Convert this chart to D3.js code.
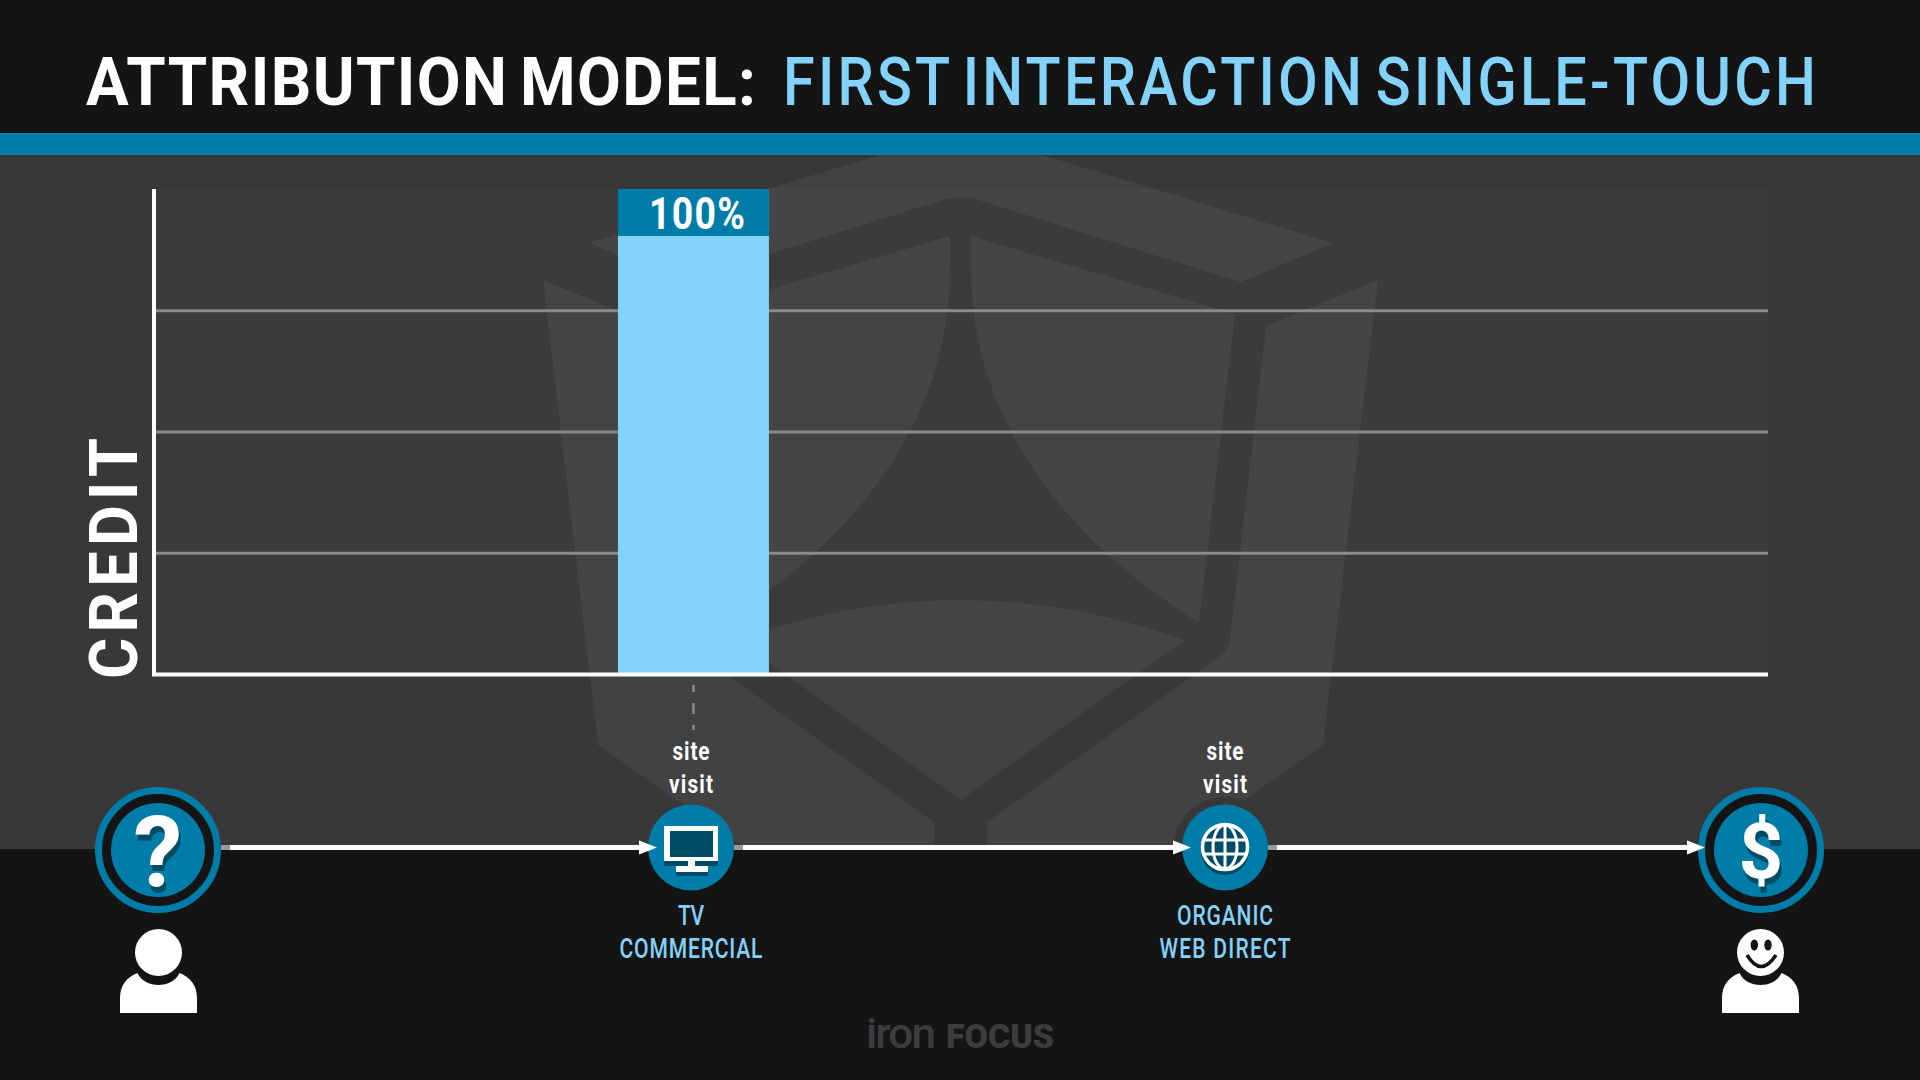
<!DOCTYPE html>
<html>
<head>
<meta charset="utf-8">
<script src="https://cdn.jsdelivr.net/npm/d3@7"></script>
<style>
  html, body { margin: 0; padding: 0; background: #141414; }
  svg { display: block; }
  text { font-family: "Roboto", "Liberation Sans", sans-serif; }
</style>
</head>
<body>
<div id="chart"></div>
<script>
// ---- data ----
const touchpoints = ["TV COMMERCIAL", "ORGANIC WEB DIRECT"];
const creditValues = [100, 0];
const creditTicks = [0, 25, 50, 75, 100];
const touchLines = [["TV", "COMMERCIAL"], ["ORGANIC", "WEB DIRECT"]];
const visitLines = ["site", "visit"];

const WIDTH = 1920, HEIGHT = 1080;
const PLOT = { left: 154, right: 1768, top: 189, bottom: 674 };
const NODE_Y = 847.5;
const START_X = 158, END_X = 1761;
const nodeX = [691, 1225];
const touchWidths = [[26, 143], [96, 131]];

const BLUE = "#007ca8", LIGHT = "#82d2fa", DARK = "#141414", SHADOW = "#004c66";

const svg = d3.select("#chart").append("svg")
  .attr("width", WIDTH).attr("height", HEIGHT);

// DIN-ish text: squeezed glyphs, then spaced out to the measured width
function fit(x, y, str, o) {
  const sx = o.sx || 0.88;
  return svg.append("text")
    .attr("transform", `translate(${x},${y}) ${o.rotate ? "rotate(-90) " : ""}scale(${sx},1)`)
    .attr("text-anchor", o.anchor || "start")
    .attr("font-size", o.size).attr("font-weight", o.weight).attr("fill", o.fill)
    .attr("word-spacing", o.wordGap || 0)
    .attr("textLength", o.w / sx).attr("lengthAdjust", "spacing")
    .text(str);
}

// backgrounds
svg.append("rect").attr("width", WIDTH).attr("height", HEIGHT).attr("fill", DARK);
svg.append("rect").attr("y", 155).attr("width", WIDTH).attr("height", 694).attr("fill", "#383838");

// watermark shield
const mark = svg.append("g").attr("fill", "#424242");
[
  "M589,243 L880,155 L1042,155 L1333,243 L1241,282 L975,199 Q960,195 946,199 L680,282 Z",
  "M1378,280 L1266,326 L1230,640 Q1228,650 1219,657 L987,822 L987,849 L1175,849 L1323,745 Z",
  "M543,280 L655,326 L691,640 Q693,650 702,657 L934,822 L934,849 L746,849 L598,745 Z",
  "M971,236 L1235,314 L1199,623 C1090,555 971,440 971,268 Z",
  "M950,236 L686,314 L722,623 C831,555 950,440 950,268 Z",
  "M737,640 Q961,560 1185,640 L961,800 Z"
].forEach(d => mark.append("path").attr("d", d));

// faint halo behind the globe node, only above the black strip
svg.append("path").attr("fill", "#383838")
  .attr("d", `M${nodeX[1] - 52},849 A52,52 0 0 1 ${nodeX[1] + 52},849 Z`);

// header
svg.append("rect").attr("y", 133).attr("width", WIDTH).attr("height", 22).attr("fill", BLUE);
fit(86, 105, "ATTRIBUTION MODEL:", { size: 67, weight: 700, fill: "#fff", w: 670, sx: 0.95, wordGap: -6 });
fit(783, 105, "FIRST INTERACTION SINGLE-TOUCH", { size: 67, weight: 500, fill: LIGHT, w: 1033, sx: 0.86, wordGap: -8 });

// plot panel
svg.append("rect")
  .attr("x", PLOT.left).attr("y", PLOT.top)
  .attr("width", PLOT.right - PLOT.left).attr("height", PLOT.bottom - PLOT.top)
  .attr("fill", "#fff").attr("fill-opacity", 0.02);

// scales
const xScale = d3.scaleBand().domain(touchpoints).range([618, 1300.5]).paddingInner(0.716);
const yScale = d3.scaleLinear().domain([0, 100]).range([PLOT.bottom, PLOT.top]);

// gridlines
svg.append("g")
  .attr("transform", `translate(${PLOT.left},0)`)
  .call(d3.axisLeft(yScale).tickValues(creditTicks.slice(1, -1)).tickSize(-(PLOT.right - PLOT.left)).tickFormat(""))
  .call(g => g.select(".domain").remove())
  .call(g => g.selectAll("line").attr("stroke", "#8a8a8a").attr("stroke-width", 3));

// bar
const bars = touchpoints.map((t, i) => ({ touch: t, value: creditValues[i] })).filter(d => d.value > 0);
svg.selectAll(".bar").data(bars).enter().append("rect")
  .attr("class", "bar")
  .attr("x", d => xScale(d.touch)).attr("width", xScale.bandwidth())
  .attr("y", d => yScale(d.value)).attr("height", d => PLOT.bottom - yScale(d.value))
  .attr("fill", LIGHT);
svg.selectAll(".bar-cap").data(bars).enter().append("rect")
  .attr("class", "bar-cap")
  .attr("x", d => xScale(d.touch)).attr("width", xScale.bandwidth())
  .attr("y", d => yScale(d.value)).attr("height", 47)
  .attr("fill", BLUE);
bars.forEach(d => {
  fit(xScale(d.touch) + 31, yScale(d.value) + 40, d.value + "%", { size: 44, weight: 700, fill: "#fff", w: 96, sx: 0.85 });
});

// axes lines
svg.append("line").attr("x1", 154).attr("x2", 154).attr("y1", PLOT.top).attr("y2", PLOT.bottom + 2)
  .attr("stroke", "#fff").attr("stroke-width", 4);
svg.append("line").attr("x1", 152).attr("x2", PLOT.right).attr("y1", PLOT.bottom + 0.5).attr("y2", PLOT.bottom + 0.5)
  .attr("stroke", "#fff").attr("stroke-width", 4);

// y title
fit(137, 679, "CREDIT", { size: 67, weight: 700, fill: "#fff", w: 241, sx: 0.94, rotate: true });

// dashed drop line
svg.append("line").attr("x1", 693.5).attr("x2", 693.5).attr("y1", 685).attr("y2", 730)
  .attr("stroke", "#8a8a8a").attr("stroke-width", 2.5).attr("stroke-dasharray", "7 11 11 11 7");

// touchpoint nodes
touchLines.forEach((lines, i) => {
  const x = nodeX[i];
  svg.append("circle").attr("cx", x).attr("cy", NODE_Y).attr("r", 43).attr("fill", BLUE);
  visitLines.forEach((t, j) => {
    fit(x, 760 + j * 32.5, t, { size: 26, weight: 700, fill: "#fff", w: j ? 44 : 37, sx: 0.8, anchor: "middle" });
  });
  lines.forEach((t, j) => {
    fit(x, 925 + j * 32.5, t, { size: 27, weight: 500, fill: LIGHT, w: touchWidths[i][j], sx: 0.78, anchor: "middle" });
  });
});

// tv icon
const tv = svg.append("g");
tv.append("rect").attr("x", 664).attr("y", 830).attr("width", 54).attr("height", 36).attr("fill", SHADOW);
tv.append("rect").attr("x", 676).attr("y", 870).attr("width", 32).attr("height", 6).attr("fill", SHADOW);
tv.append("rect").attr("x", 664).attr("y", 826).attr("width", 54).attr("height", 35).attr("fill", "#fff");
tv.append("rect").attr("x", 670).attr("y", 831).attr("width", 43).attr("height", 26).attr("fill", SHADOW);
tv.append("rect").attr("x", 688).attr("y", 861).attr("width", 7).attr("height", 5).attr("fill", "#fff");
tv.append("rect").attr("x", 676).attr("y", 866).attr("width", 32).attr("height", 6).attr("fill", "#fff");

// globe icon
const globe = svg.append("g").attr("transform", "translate(1225,847)");
globe.append("circle").attr("cy", 4).attr("r", 24).attr("fill", SHADOW);
[[SHADOW, 4], ["#fff", 0]].forEach(([c, dy]) => {
  const g = globe.append("g").attr("transform", `translate(0,${dy})`)
    .attr("stroke", c).attr("stroke-width", 3).attr("fill", "none");
  g.append("ellipse").attr("rx", 12).attr("ry", 22);
  g.append("line").attr("y1", -22).attr("y2", 22);
  [-7, 7].forEach(ly => {
    const hw = Math.sqrt(22 * 22 - ly * ly);
    g.append("line").attr("x1", -hw).attr("x2", hw).attr("y1", ly).attr("y2", ly);
  });
});
globe.append("circle").attr("r", 22.5).attr("fill", "none").attr("stroke", "#fff").attr("stroke-width", 3.5);

// start / end circles
[[START_X, "?", 98, 886], [END_X, "$", 78, 878]].forEach(([x, glyph, size, base]) => {
  svg.append("circle").attr("cx", x).attr("cy", 850).attr("r", 59.5).attr("fill", DARK).attr("stroke", BLUE).attr("stroke-width", 7);
  svg.append("circle").attr("cx", x).attr("cy", 850).attr("r", 47).attr("fill", BLUE);
  svg.append("text").attr("x", x).attr("y", base)
    .attr("text-anchor", "middle").attr("font-size", size).attr("font-weight", 700).attr("fill", "#fff")
    .style("filter", `drop-shadow(2px 6px 0 ${SHADOW})`)
    .text(glyph);
});

// journey arrows, on top of the circles
const journey = [[START_X + 63, nodeX[0] - 34], [nodeX[0] + 43, nodeX[1] - 34], [nodeX[1] + 43, END_X - 56]];
journey.forEach(([a, b]) => {
  svg.append("rect").attr("x", a).attr("y", NODE_Y - 2.5).attr("width", 10).attr("height", 5).attr("fill", "#9a9a9a");
  svg.append("rect").attr("x", a + 9).attr("y", NODE_Y - 2.5).attr("width", b - a - 9 - 17).attr("height", 5).attr("fill", "#fff");
  svg.append("path").attr("fill", "#fff")
    .attr("d", `M${b},${NODE_Y} L${b - 18},${NODE_Y - 7} L${b - 18},${NODE_Y + 7} Z`);
});

// people
[158.5, 1760.5].forEach(x => {
  svg.append("path").attr("fill", "#fff")
    .attr("d", `M${x - 38.5},1013 L${x - 38.5},998 C${x - 38.5},986 ${x - 32},977 ${x - 21},973 C${x - 14},989 ${x + 14},989 ${x + 21},973 C${x + 32},977 ${x + 38.5},986 ${x + 38.5},998 L${x + 38.5},1013 Z`);
  svg.append("circle").attr("cx", x).attr("cy", 952.5).attr("r", 23.5).attr("fill", "#fff");
});
// smile on the right-hand person
svg.append("ellipse").attr("cx", 1754.3).attr("cy", 945).attr("rx", 3.7).attr("ry", 5.5).attr("fill", DARK);
svg.append("ellipse").attr("cx", 1768).attr("cy", 945).attr("rx", 3.7).attr("ry", 5.5).attr("fill", DARK);
svg.append("path").attr("d", "M1747,955 Q1761,978 1776,955").attr("fill", "none").attr("stroke", DARK).attr("stroke-width", 3.5);

// footer logo
fit(866, 1048, "iron", { size: 42, weight: 500, fill: "#3c3c3c", w: 70, sx: 1.05 });
fit(946, 1048, "FOCUS", { size: 34, weight: 900, fill: "#3c3c3c", w: 108, sx: 1 });
</script>
</body>
</html>
